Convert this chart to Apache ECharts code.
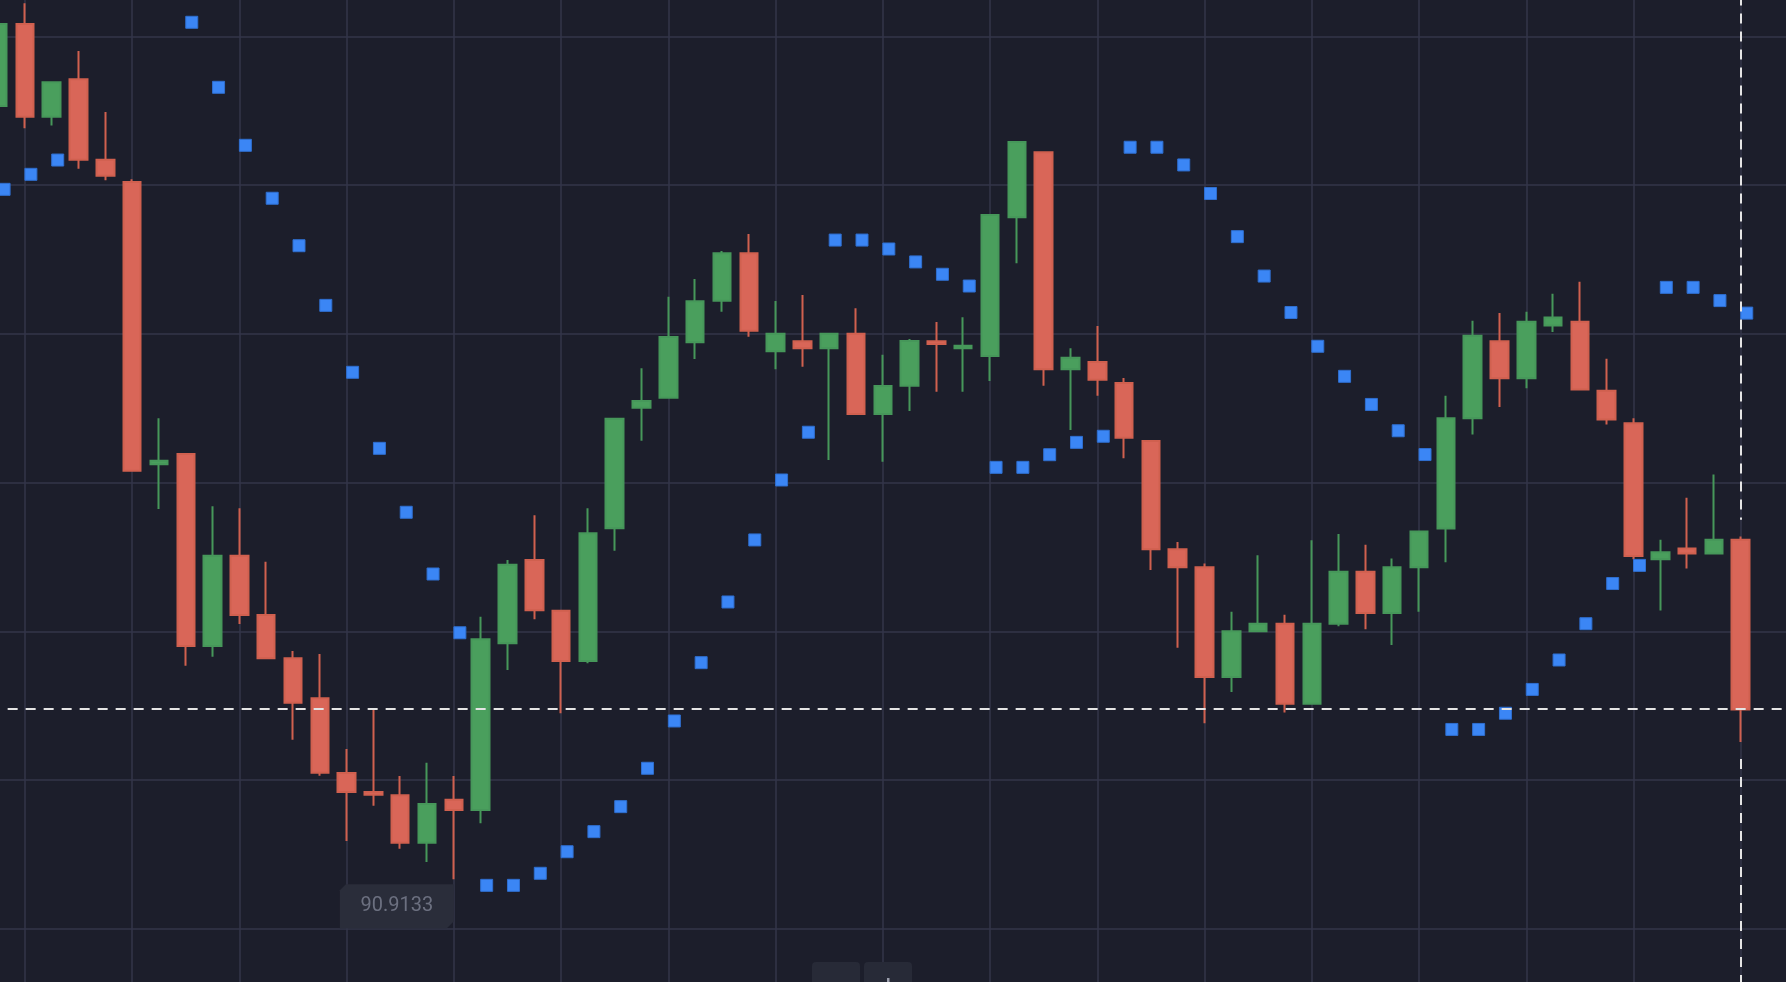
<!DOCTYPE html>
<html>
<head>
<meta charset="utf-8">
<script src="https://cdn.jsdelivr.net/npm/echarts@6/dist/echarts.min.js"></script>
<style>
html,body{margin:0;padding:0;background:#1c1e2b;overflow:hidden}
#chart{width:1786px;height:982px}
</style>
</head>
<body>
<div id="chart"></div>
<script>
// ---- data ----
const opens = [96.112,96.663,96.040,96.291,95.751,95.601,93.703,93.772,92.482,93.089,
  92.690,92.399,92.130,91.628,91.500,91.478,91.159,91.448,91.379,92.500,
  93.060,92.719,92.381,93.273,94.084,94.151,94.523,94.803,95.122,94.463,
  94.530,94.483,94.581,94.041,94.232,94.530,94.483,94.431,95.364,95.801,
  94.342,94.391,94.250,93.860,93.132,93.011,92.273,92.581,92.632,92.093,
  92.632,92.981,92.704,93.011,93.272,94.012,94.530,94.282,94.636,94.661,
  94.198,93.979,93.065,93.137,93.104,93.196];
const closes = [96.663,96.040,96.271,95.751,95.643,93.660,93.727,92.482,93.089,92.690,
  92.399,92.101,91.630,91.500,91.482,91.159,91.420,91.379,92.527,93.028,
  92.722,92.381,93.239,94.010,94.129,94.559,94.799,95.122,94.601,94.581,
  94.483,94.581,94.041,94.230,94.532,94.512,94.501,95.379,95.870,94.342,
  94.420,94.272,93.882,93.132,93.011,92.273,92.581,92.632,92.093,92.632,
  92.981,92.704,93.011,93.251,94.012,94.568,94.282,94.661,94.690,94.206,
  94.004,93.087,93.112,93.104,93.196,92.055];
const lows = [96.072,95.962,95.980,95.690,95.612,93.660,93.403,92.349,92.410,92.630,
  92.399,91.852,91.610,91.171,91.408,91.119,91.030,90.9133,91.290,92.320,
  92.661,92.029,92.365,93.122,93.862,94.151,94.411,94.729,94.561,94.342,
  94.359,93.732,94.041,93.721,94.062,94.191,94.191,94.263,95.054,94.232,
  93.934,94.164,93.744,92.993,92.470,91.963,92.173,92.581,92.034,92.093,
  92.615,92.594,92.488,92.712,93.044,93.903,94.088,94.215,94.593,94.206,
  93.971,93.065,92.720,93.002,93.104,91.836];
const highs = [96.704,96.802,96.271,96.482,96.072,95.619,94.012,93.772,93.421,93.407,
  93.048,92.448,92.428,91.789,92.056,91.608,91.697,91.608,92.679,93.060,
  93.360,92.719,93.407,94.010,94.349,94.830,94.949,95.137,95.251,94.801,
  94.841,94.581,94.752,94.440,94.546,94.660,94.691,95.379,95.870,95.801,
  94.483,94.633,94.283,93.860,93.181,93.036,92.712,93.091,92.691,93.192,
  93.234,93.162,93.070,93.251,94.164,94.669,94.720,94.728,94.850,94.930,
  94.412,94.012,93.196,93.478,93.634,93.217];
// Parabolic SAR (null = above the visible area)
const sar = [95.592,95.693,95.789,null,null,null,null,96.715,96.278,95.888,
  95.532,95.213,94.812,94.362,93.851,93.421,93.006,92.611,90.913,90.913,
  90.994,91.139,91.274,91.442,91.700,92.018,92.410,92.818,93.235,93.638,
  93.959,95.251,95.251,95.191,95.104,95.021,94.942,93.723,93.723,93.808,
  93.891,93.932,95.875,95.875,95.756,95.564,95.274,95.009,94.764,94.537,
  94.335,94.146,93.969,93.809,91.961,91.961,92.070,92.230,92.428,92.672,
  92.942,93.064,94.933,94.933,94.844,94.760];

// ---- axis window ----
const X_MIN = -4, X_MAX = 68, X_STEP = 4;
const Y_MIN = 89.5805, Y_MAX = 97.5805;
const GRID_STEPS = 8;
const GAP = 0.114;

const candleData = opens.map((o, i) => [i - 1, o, closes[i], lows[i], highs[i]]);
const sarData = [];
sar.forEach((v, i) => { if (v != null) sarData.push([i - 1, v]); });
const last = candleData.length - 1;
const lastX = last - 1;

const chart = echarts.init(document.getElementById('chart'), null, {renderer: 'canvas'});
chart.setOption({
  animation: false,
  backgroundColor: '#1c1e2b',
  grid: {left: -82.34, right: -61.98, top: -112.45, bottom: -95.55, containLabel: false, outerBoundsMode: 'none'},
  xAxis: {
    type: 'value', min: X_MIN, max: X_MAX, interval: X_STEP,
    axisLine: {show: false}, axisTick: {show: false}, axisLabel: {show: false},
    splitLine: {show: true, lineStyle: {color: '#33364a', width: 1.5}}
  },
  yAxis: [
    {type: 'value', min: Y_MIN, max: Y_MAX, scale: true,
     axisLine: {show: false}, axisTick: {show: false}, axisLabel: {show: false},
     splitLine: {show: false}},
    {type: 'value', min: 0, max: GRID_STEPS, interval: 1, position: 'right',
     axisLine: {show: false}, axisTick: {show: false}, axisLabel: {show: false},
     splitLine: {show: true, lineStyle: {color: '#33364a', width: 1.5}}}
  ],
  series: [
    {
      type: 'candlestick',
      data: candleData,
      barWidth: 18,
      itemStyle: {
        color: '#4a9f5d', color0: '#d96658',
        borderColor: '#46975a', borderColor0: '#d0604f',
        borderWidth: 2
      },
      markLine: {
        silent: true, symbol: ['none', 'none'], label: {show: false},
        lineStyle: {color: '#e4e4e4', width: 2, type: [10, 8]},
        emphasis: {disabled: true},
        data: [
          {yAxis: closes[last]},
          [{coord: [lastX, Y_MAX]}, {coord: [lastX, highs[last] + GAP]}],
          [{coord: [lastX, lows[last] - GAP]}, {coord: [lastX, Y_MIN]}]
        ]
      },
      markPoint: {
        silent: true,
        symbol: 'path://M6,0 L114,0 L114,37 L107,44 L0,44 L0,6 Z',
        symbolSize: [114, 44],
        symbolOffset: [-57, 27],
        itemStyle: {color: '#2a2d3a'},
        label: {
          show: true, position: 'inside', color: '#6c7080',
          fontSize: 20, fontFamily: 'Roboto',
          formatter: p => Number(p.value).toFixed(4)
        },
        data: [{type: 'min', valueDim: 'lowest'}]
      }
    },
    {
      type: 'scatter',
      data: sarData,
      symbol: 'rect',
      symbolSize: 12,
      symbolOffset: [6, 6],
      itemStyle: {color: '#3b86f5', borderColor: '#2f6fd0', borderWidth: 1, opacity: 1},
      z: 3
    }
  ],
  graphic: [
    {type: 'rect', x: 812, y: 962, shape: {width: 48, height: 40, r: 4}, style: {fill: '#272a37'}, z: 100},
    {type: 'rect', x: 864, y: 962, shape: {width: 48, height: 40, r: 4}, style: {fill: '#272a37'}, z: 100},
    {type: 'rect', x: 887, y: 978, shape: {width: 2.5, height: 8}, style: {fill: '#9c9fad'}, z: 101}
  ]
});
</script>
</body>
</html>
